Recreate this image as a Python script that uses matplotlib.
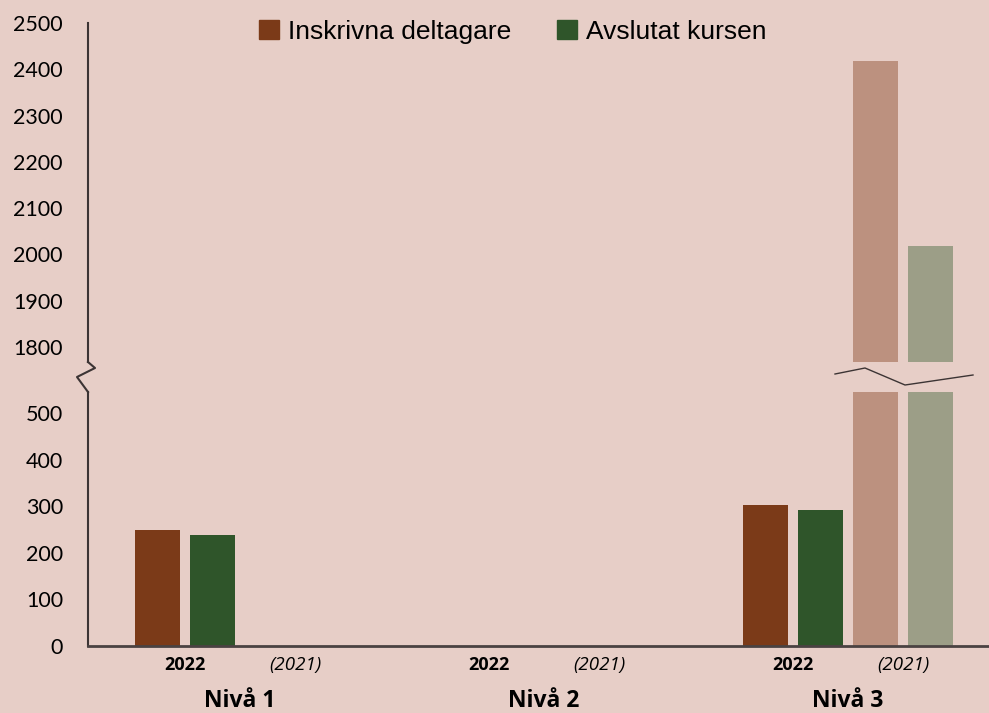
import numpy as np
import matplotlib.pyplot as plt
from matplotlib.lines import Line2D
from matplotlib.patches import Patch

categories = ["Nivå 1", "Nivå 2", "Nivå 3"]
inskrivna_2022 = [248, 0, 303]
avslutat_2022 = [239, 0, 291]
inskrivna_2021 = [0, 0, 2418]
avslutat_2021 = [0, 0, 2018]
low_ticks = [0, 100, 200, 300, 400, 500]
high_ticks = [1800, 1900, 2000, 2100, 2200, 2300, 2400, 2500]

bg = "#E7CEC7"
c_ins, c_avs = "#7B3A18", "#2F552A"
c_ins21, c_avs21 = "#BC917F", "#9C9E87"
axis_col = "#3c3434"

plt.rcParams["font.family"] = ["Lato", "DejaVu Sans"]

W, H = 989, 713
fig = plt.figure(figsize=(W / 100, H / 100), dpi=100, facecolor=bg)


def fx(px):
    return px / W


def fy(py):
    return 1 - py / H


left, right = 88, 1000
ax_lo = fig.add_axes([fx(left), fy(646), fx(right - left), fy(392) - fy(646)])
ax_hi = fig.add_axes([fx(left), fy(362), fx(right - left), fy(23) - fy(362)])

x = np.arange(len(categories))
step = 0.181
bw = 0.145
series = [
    (inskrivna_2022, c_ins, -1.5),
    (avslutat_2022, c_avs, -0.5),
    (inskrivna_2021, c_ins21, 0.5),
    (avslutat_2021, c_avs21, 1.5),
]
for ax in (ax_lo, ax_hi):
    ax.set_facecolor("none")
    for vals, col, off in series:
        ax.bar(x + off * step, vals, width=bw, color=col)
    ax.set_xlim(-0.5, 2.5)
    for s in ("top", "right", "bottom"):
        ax.spines[s].set_visible(False)
    ax.spines["left"].set_color(axis_col)
    ax.spines["left"].set_linewidth(1.5)
    ax.tick_params(axis="y", length=0, pad=18, labelsize=15.5)
    ax.set_xticks([])

ax_lo.set_ylim(0, 545)
ax_lo.set_yticks(low_ticks)
ax_lo.spines["bottom"].set_visible(True)
ax_lo.spines["bottom"].set_color("#4a4242")
ax_lo.spines["bottom"].set_linewidth(2)
ax_hi.set_ylim(1767.6, 2500)
ax_hi.set_yticks(high_ticks)

# sub labels and category labels
trans = ax_lo.get_xaxis_transform()
for i, cat in enumerate(categories):
    ax_lo.text(i - step, -0.075, "2022", transform=trans, ha="center", va="center",
               fontsize=13, fontweight="bold", family=["Open Sans", "DejaVu Sans"])
    ax_lo.text(i + step, -0.075, "(2021)", transform=trans, ha="center", va="center",
               fontsize=13.5, style="italic", family=["Open Sans", "DejaVu Sans"])
    ax_lo.text(i, -0.215, cat, transform=trans, ha="center", va="center",
               fontsize=16.5, fontweight="bold", family=["Open Sans", "DejaVu Sans"])

# axis break marks
zig = [(88, 362), (95, 368), (77, 377), (88, 392)]
fig.add_artist(Line2D([fx(p[0]) for p in zig], [fy(p[1]) for p in zig],
                      color=axis_col, lw=1.5, transform=fig.transFigure))
brk = [(835, 374), (865, 368), (905, 385), (973, 375)]
fig.add_artist(Line2D([fx(p[0]) for p in brk], [fy(p[1]) for p in brk],
                      color=axis_col, lw=1, transform=fig.transFigure))

handles = [Patch(color=c_ins, label="Inskrivna deltagare"),
           Patch(color=c_avs, label="Avslutat kursen")]
fig.legend(handles=handles, loc="center", bbox_to_anchor=(fx(513), fy(32)), ncol=2,
           frameon=False, handlelength=0.75, handleheight=0.75,
           handletextpad=0.35, columnspacing=1.75,
           prop={"family": ["Liberation Sans", "DejaVu Sans"], "size": 19})

fig.savefig("out.png", dpi=100, facecolor=bg)
